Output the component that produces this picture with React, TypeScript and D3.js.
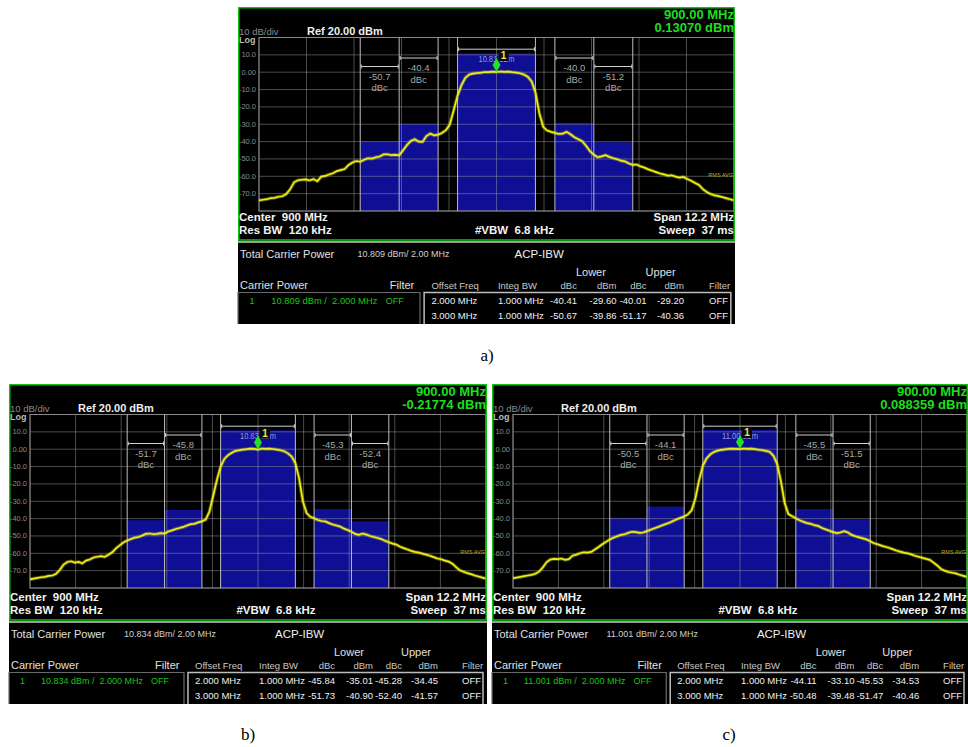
import React from "react";
import * as d3 from "d3";

const FONT = "'Liberation Sans', Arial, Helvetica, sans-serif";
const SERIF = "'Liberation Serif', 'Times New Roman', serif";

// ---------- data ----------
const FREQ_START = -6.1; // MHz offset from 900 MHz
const FREQ_STEP = 0.1;
const SPAN = [-6.1, 6.1];
const REF_LEVEL = 20;
const BOTTOM_LEVEL = -80;

const traceA = [
  -73.9, -73.5, -73.2, -72.6, -72.4, -71.8, -71.5, -70.2, -67.5, -63.5,
  -62.3, -62.0, -61.8, -62.4, -61.6, -62.8, -60.2, -59.8, -59.0, -58.2,
  -57.0, -56.4, -55.8, -53.5, -52.0, -51.2, -51.6, -50.5, -49.6, -49.8,
  -49.0, -48.6, -47.4, -47.3, -47.8, -47.6, -47.9, -45.0, -42.0, -39.6,
  -38.6, -40.0, -40.2, -36.8, -35.4, -36.4, -36.0, -35.0, -33.4, -30.2,
  -22.0, -13.5, -7.5, -3.2, -1.4, -0.8, -0.5, -0.3, 0.1, 0.0,
  0.3, 0.13, 0.4, 0.2, 0.3, 0.0, -0.2, -0.6, -1.3, -2.6,
  -5.2, -11.5, -23.5, -31.5, -33.6, -34.4, -35.0, -35.6, -35.4, -34.4,
  -35.8, -37.5, -38.6, -39.8, -42.4, -45.5, -47.6, -49.0, -48.5, -47.8,
  -48.8, -49.6, -50.2, -51.0, -51.4, -52.6, -53.4, -53.2, -54.3, -55.0,
  -56.0, -56.8, -57.6, -58.4, -58.9, -59.6, -59.4, -60.2, -60.8, -60.4,
  -61.6, -62.6, -63.8, -65.0, -67.4, -69.0, -70.2, -71.0, -71.4, -72.0,
  -72.6, -73.2, -73.9,
];

const traceB = [
  -75.0, -74.6, -74.2, -73.8, -73.6, -73.0, -72.8, -71.8, -69.5, -66.5,
  -65.0, -64.6, -65.4, -65.0, -65.8, -64.2, -63.6, -62.4, -62.0, -61.6,
  -62.0, -60.8, -59.4, -57.2, -55.4, -53.8, -52.6, -51.8, -51.0, -50.6,
  -49.8, -48.8, -48.6, -49.0, -48.8, -48.4, -48.6, -47.4, -46.8, -46.0,
  -45.4, -44.8, -44.0, -43.2, -43.0, -42.2, -41.6, -40.6, -36.0, -27.0,
  -17.8, -10.0, -5.6, -3.4, -2.0, -1.0, -0.6, -0.2, 0.0, 0.3,
  0.2, -0.22, 0.4, 0.2, 0.3, 0.1, -0.2, -0.6, -1.2, -2.4,
  -4.2, -8.0, -16.8, -30.0, -36.8, -39.0, -39.8, -40.8, -41.4, -41.6,
  -42.6, -43.4, -44.0, -44.6, -45.8, -46.6, -47.6, -48.8, -49.4, -48.6,
  -49.2, -50.0, -50.6, -51.2, -51.8, -52.8, -53.6, -54.4, -55.0, -56.2,
  -57.0, -57.8, -58.6, -59.2, -59.6, -60.2, -60.8, -61.4, -62.2, -63.0,
  -63.4, -64.2, -64.8, -66.0, -68.0, -69.8, -70.6, -71.4, -72.0, -72.8,
  -73.4, -74.0, -74.6,
];

const traceC = [
  -74.4, -74.0, -73.6, -73.2, -72.8, -72.4, -71.8, -70.6, -68.2, -65.2,
  -63.6, -63.2, -63.4, -63.0, -63.8, -63.4, -61.4, -60.8, -60.0, -59.4,
  -59.6, -59.2, -57.8, -56.4, -54.8, -53.4, -52.0, -51.0, -50.2, -49.4,
  -49.0, -48.2, -47.6, -47.8, -48.2, -48.0, -47.2, -46.4, -45.6, -44.8,
  -44.0, -43.2, -42.4, -41.4, -40.4, -39.6, -38.8, -37.6, -35.2, -28.5,
  -18.0, -9.6, -5.4, -3.0, -1.6, -0.8, -0.4, -0.1, 0.2, 0.3,
  0.2, 0.09, 0.4, 0.2, 0.3, 0.0, -0.3, -0.6, -1.0, -1.6,
  -3.8, -8.6, -18.5, -31.0, -37.4, -38.6, -39.8, -41.0, -41.8, -42.6,
  -43.0, -43.8, -44.2, -45.4, -46.2, -47.0, -47.8, -48.4, -48.0, -47.2,
  -48.0, -49.4, -50.2, -50.8, -51.4, -52.0, -53.0, -54.2, -54.8, -55.6,
  -56.2, -56.8, -57.6, -58.4, -59.0, -59.6, -60.0, -60.6, -61.4, -62.0,
  -62.6, -63.2, -63.8, -65.4, -67.0, -69.0, -70.0, -70.8, -71.2, -71.6,
  -72.4, -73.0, -73.6,
];

const traces = [traceA, traceB, traceC];

const markerFreqText = ["900.00 MHz", "900.00 MHz", "900.00 MHz"];
const markerAmp = [0.1307, -0.21774, 0.088359];
const markerAmpText = ["0.13070 dBm", "-0.21774 dBm", "0.088359 dBm"];
const carrierPower = [10.809, 10.834, 11.001];
const carrierBW = 2;
const offsetFreqs = [2, 3];
const integBW = 1;
const lowerDbc = [[-40.41, -50.67], [-45.84, -51.73], [-44.11, -50.48]];
const lowerDbm = [[-29.6, -39.86], [-35.01, -40.9], [-33.1, -39.48]];
const upperDbc = [[-40.01, -51.17], [-45.28, -52.4], [-45.53, -51.47]];
const upperDbm = [[-29.2, -40.36], [-34.45, -41.57], [-34.53, -40.46]];

const yTicks = [10, 0, -10, -20, -30, -40, -50, -60, -70];
const yTickLabels = ["10.0", "0.00", "-10.0", "-20.0", "-30.0", "-40.0", "-50.0", "-60.0", "-70.0"];
const panelLabels = ["a)", "b)", "c)"];

// ---------- layout ----------
const PANELS = [
  { x: 238, y: 7, w: 497, h: 233 },
  { x: 9, y: 384, w: 478, h: 236 },
  { x: 492, y: 384, w: 476, h: 236 },
];
const LABEL_POS = [
  { x: 487, y: 361 },
  { x: 248, y: 740 },
  { x: 729, y: 740 },
];
const TCOL = {
  tcp: 2, tcpVal: 115, acp: 266, lower: 325, upper: 392, cp: 2, filterL: 146,
  offset: 186, integ: 250, dbcL: 326, dbmL: 364, dbcU: 393, dbmU: 429, filterR: 453,
  lbox0: 0, lbox1: 175, rbox0: 179, rbox1: 474, one: 11, cpVal: 32, off: 142,
};

const GREEN = "#1ede1e";

function Panel({ idx }: { idx: number }) {
  const g = PANELS[idx];
  const left = g.x + 21;
  const right = g.x + g.w - 1;
  const top = g.y + 30.5;
  const bottom = top + 173.5;
  const xs = d3.scaleLinear().domain(SPAN).range([left, right]);
  const ys = d3.scaleLinear().domain([BOTTOM_LEVEL, REF_LEVEL]).range([bottom, top]);
  const trace = traces[idx];
  const line = d3
    .line<number>()
    .x((_, i) => xs(FREQ_START + i * FREQ_STEP))
    .y((d) => ys(d));
  const vGrid = d3.range(11).map((i) => SPAN[0] + (i * (SPAN[1] - SPAN[0])) / 10);
  const hGrid = d3.range(11).map((i) => BOTTOM_LEVEL + i * 10);

  const bands = [
    { f0: -carrierBW / 2, f1: carrierBW / 2, p: carrierPower[idx], br: 11.7, dbc: null as number | null },
    { f0: -offsetFreqs[0] - integBW / 2, f1: -offsetFreqs[0] + integBW / 2, p: lowerDbm[idx][0], br: 20.5, dbc: lowerDbc[idx][0] },
    { f0: -offsetFreqs[1] - integBW / 2, f1: -offsetFreqs[1] + integBW / 2, p: lowerDbm[idx][1], br: 29, dbc: lowerDbc[idx][1] },
    { f0: offsetFreqs[0] - integBW / 2, f1: offsetFreqs[0] + integBW / 2, p: upperDbm[idx][0], br: 20.5, dbc: upperDbc[idx][0] },
    { f0: offsetFreqs[1] - integBW / 2, f1: offsetFreqs[1] + integBW / 2, p: upperDbm[idx][1], br: 29, dbc: upperDbc[idx][1] },
  ];
  const edges = Array.from(new Set(bands.flatMap((b) => [b.f0, b.f1])));

  const mx = xs(0);
  const my = ys(markerAmp[idx]);

  // table
  const T = g.y + g.h + 3;
  const s = g.w / 478;
  const cx = (v: number) => g.x + v * s;
  const rowY = [T + 60.5, T + 75.5];
  const tableBottom = T + 81;

  return (
    <g>
      <rect x={g.x} y={g.y} width={g.w} height={tableBottom - g.y} fill="#000" />
      {/* bars */}
      {bands.map((b, i) => (
        <rect key={"bar" + i} x={xs(b.f0)} y={ys(b.p)} width={xs(b.f1) - xs(b.f0)} height={bottom - ys(b.p)} fill="#0f0f96" />
      ))}
      {/* grid */}
      {vGrid.map((f, i) => (
        <line key={"vg" + i} x1={xs(f)} x2={xs(f)} y1={top} y2={bottom} stroke="rgba(150,150,150,0.5)" strokeWidth={1} />
      ))}
      {hGrid.map((v, i) => (
        <line key={"hg" + i} x1={left} x2={right} y1={ys(v)} y2={ys(v)} stroke="rgba(150,150,150,0.5)" strokeWidth={1} />
      ))}
      <rect x={left} y={top} width={right - left} height={bottom - top} fill="none" stroke="#8a8a8a" strokeWidth={1} />
      {/* band edges */}
      {edges.map((f, i) => (
        <line key={"be" + i} x1={xs(f)} x2={xs(f)} y1={top} y2={bottom} stroke="#bdbdbd" strokeWidth={1} />
      ))}
      {/* brackets */}
      {bands.map((b, i) => {
        const by = top + b.br;
        const x0 = xs(b.f0) + 1;
        const x1 = xs(b.f1) - 1;
        return (
          <g key={"br" + i}>
            <line x1={x0} x2={x1} y1={by} y2={by} stroke="#d0d0d0" strokeWidth={1} />
            <line x1={x0} x2={x0} y1={by - 2} y2={by + 2} stroke="#d0d0d0" strokeWidth={1} />
            <line x1={x1} x2={x1} y1={by - 2} y2={by + 2} stroke="#d0d0d0" strokeWidth={1} />
            {b.dbc !== null ? (
              <g fontFamily={FONT} fontSize={9.5} fill="#a8a8a8" textAnchor="middle">
                <text x={(x0 + x1) / 2} y={by + 13}>{b.dbc.toFixed(1)}</text>
                <text x={(x0 + x1) / 2} y={by + 24.5}>dBc</text>
              </g>
            ) : (
              <text x={(x0 + x1) / 2} y={by + 12.5} fontFamily={FONT} fontSize={9} fill="#9a9ad8" textAnchor="middle" textLength={36} lengthAdjust="spacingAndGlyphs">
                {b.p.toFixed(2) + " dBm"}
              </text>
            )}
          </g>
        );
      })}
      {/* trace */}
      <path d={line(trace) || ""} fill="none" stroke="rgba(235,235,20,0.35)" strokeWidth={3.6} />
      <path d={line(trace) || ""} fill="none" stroke="#ecec18" strokeWidth={1.7} />
      <text x={right - 1} y={ys(-59) + 2} fontFamily={FONT} fontSize={5.5} fill="#b0b020" textAnchor="end">RMS AVG</text>
      {/* marker */}
      <path d={`M${mx},${my} L${mx + 4},${my - 7} L${mx},${my - 14} L${mx - 4},${my - 7} Z`} fill="#22e022" />
      <rect x={mx + 2} y={my - 22} width={10} height={11} fill="#0a0a0a" />
      <text x={mx + 7} y={my - 12.8} fontFamily={FONT} fontSize={10} fontWeight="bold" fill="#e8e860" textAnchor="middle">1</text>
      {/* y tick labels */}
      {yTicks.map((v, i) => (
        <text key={"yt" + i} x={left - 3} y={ys(v) + 2.5} fontFamily={FONT} fontSize={7.5} fill="#8c8c8c" textAnchor="end">
          {yTickLabels[i]}
        </text>
      ))}
      {/* header texts */}
      <text x={g.x + 1} y={g.y + 28} fontFamily={FONT} fontSize={9.5} fill="#8a8a8a">10 dB/div</text>
      <text x={g.x + 1} y={g.y + 36} fontFamily={FONT} fontSize={9} fontWeight="bold" fill="#bbbbbb">Log</text>
      <text x={g.x + 69} y={g.y + 28} fontFamily={FONT} fontSize={11} fontWeight="bold" fill="#eeeeee">Ref 20.00 dBm</text>
      <text x={right} y={g.y + 11.5} fontFamily={FONT} fontSize={13} fontWeight="bold" fill={GREEN} textAnchor="end">{markerFreqText[idx]}</text>
      <text x={right} y={g.y + 24.5} fontFamily={FONT} fontSize={13} fontWeight="bold" fill={GREEN} textAnchor="end">{markerAmpText[idx]}</text>
      {/* footer texts */}
      <g fontFamily={FONT} fontSize={11.5} fontWeight="bold" fill="#f2f2f2">
        <text x={g.x + 1} y={g.y + g.h - 19} style={{ whiteSpace: "pre" }}>{"Center  900 MHz"}</text>
        <text x={g.x + 1} y={g.y + g.h - 6} style={{ whiteSpace: "pre" }}>{"Res BW  120 kHz"}</text>
        <text x={(left + right) / 2 + 18} y={g.y + g.h - 6} textAnchor="middle" style={{ whiteSpace: "pre" }}>{"#VBW  6.8 kHz"}</text>
        <text x={right} y={g.y + g.h - 19} textAnchor="end">Span 12.2 MHz</text>
        <text x={right} y={g.y + g.h - 6} textAnchor="end" style={{ whiteSpace: "pre" }}>{"Sweep  37 ms"}</text>
      </g>
      {/* frame */}
      <rect x={g.x + 0.75} y={g.y + 0.75} width={g.w - 1.5} height={g.h - 0.75} fill="none" stroke="#12c012" strokeWidth={1.5} />
      <line x1={g.x} x2={g.x + g.w} y1={g.y + g.h + 2} y2={g.y + g.h + 2} stroke="#cfcfcf" strokeWidth={1.5} />
      {/* table */}
      <g fontFamily={FONT}>
        <text x={cx(TCOL.tcp)} y={T + 15} fontSize={11} fill="#e0e0e0">Total Carrier Power</text>
        <text x={cx(TCOL.tcpVal)} y={T + 14} fontSize={9} fill="#d0d0d0">{carrierPower[idx].toFixed(3) + " dBm/ 2.00 MHz"}</text>
        <text x={cx(TCOL.acp)} y={T + 15} fontSize={11.5} fill="#f0f0f0">ACP-IBW</text>
        <text x={cx(TCOL.lower)} y={T + 32.5} fontSize={11} fill="#e0e0e0">Lower</text>
        <text x={cx(TCOL.upper)} y={T + 32.5} fontSize={11} fill="#e0e0e0">Upper</text>
        <text x={cx(TCOL.cp)} y={T + 45.5} fontSize={11} fill="#e0e0e0">Carrier Power</text>
        <text x={cx(TCOL.filterL)} y={T + 45.5} fontSize={11} fill="#e0e0e0">Filter</text>
        <g fontSize={9.5} fill="#c8c8c8">
          <text x={cx(TCOL.offset)} y={T + 46}>Offset Freq</text>
          <text x={cx(TCOL.integ)} y={T + 46}>Integ BW</text>
          <text x={cx(TCOL.dbcL)} y={T + 46} textAnchor="end">dBc</text>
          <text x={cx(TCOL.dbmL)} y={T + 46} textAnchor="end">dBm</text>
          <text x={cx(TCOL.dbcU)} y={T + 46} textAnchor="end">dBc</text>
          <text x={cx(TCOL.dbmU)} y={T + 46} textAnchor="end">dBm</text>
          <text x={cx(TCOL.filterR)} y={T + 46}>Filter</text>
        </g>
        <path d={`M${cx(TCOL.lbox0)},${tableBottom + 2} L${cx(TCOL.lbox0)},${T + 49.5} L${cx(TCOL.lbox1)},${T + 49.5} L${cx(TCOL.lbox1)},${tableBottom + 2}`} fill="none" stroke="#6a6a6a" strokeWidth={1.2} />
        <path d={`M${cx(TCOL.rbox0)},${tableBottom + 2} L${cx(TCOL.rbox0)},${T + 49.5} L${cx(TCOL.rbox1)},${T + 49.5} L${cx(TCOL.rbox1)},${tableBottom + 2}`} fill="none" stroke="#bdbdbd" strokeWidth={1.5} />
        <g fontSize={9} fill="#14c814">
          <text x={cx(TCOL.one)} y={rowY[0]}>1</text>
          <text x={cx(TCOL.cpVal)} y={rowY[0]} style={{ whiteSpace: "pre" }} textLength={102 * s} lengthAdjust="spacingAndGlyphs">{carrierPower[idx].toFixed(3) + " dBm /  " + carrierBW.toFixed(3) + " MHz"}</text>
          <text x={cx(TCOL.off)} y={rowY[0]}>OFF</text>
        </g>
        {offsetFreqs.map((of, r) => (
          <g key={"row" + r} fontSize={9.5} fill="#f0f0f0">
            <text x={cx(TCOL.offset)} y={rowY[r]}>{of.toFixed(3) + " MHz"}</text>
            <text x={cx(TCOL.integ)} y={rowY[r]}>{integBW.toFixed(3) + " MHz"}</text>
            <text x={cx(TCOL.dbcL)} y={rowY[r]} textAnchor="end">{lowerDbc[idx][r].toFixed(2)}</text>
            <text x={cx(TCOL.dbmL)} y={rowY[r]} textAnchor="end">{lowerDbm[idx][r].toFixed(2)}</text>
            <text x={cx(TCOL.dbcU)} y={rowY[r]} textAnchor="end">{upperDbc[idx][r].toFixed(2)}</text>
            <text x={cx(TCOL.dbmU)} y={rowY[r]} textAnchor="end">{upperDbm[idx][r].toFixed(2)}</text>
            <text x={cx(TCOL.filterR)} y={rowY[r]}>OFF</text>
          </g>
        ))}
      </g>
      {/* clip table bottom with white */}
      <rect x={g.x - 2} y={tableBottom} width={g.w + 4} height={6} fill="#fff" />
      <text x={LABEL_POS[idx].x} y={LABEL_POS[idx].y} fontFamily={SERIF} fontSize={17} fill="#000" textAnchor="middle">
        {panelLabels[idx]}
      </text>
    </g>
  );
}

export default function App() {
  return (
    <svg width={968} height={747} style={{ position: "absolute", left: 0, top: 0, background: "#fff" }}>
      <rect x={0} y={0} width={968} height={747} fill="#fff" />
      {[0, 1, 2].map((i) => (
        <Panel key={i} idx={i} />
      ))}
    </svg>
  );
}
